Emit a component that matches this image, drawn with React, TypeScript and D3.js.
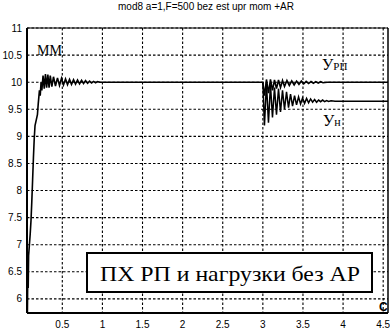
import React from "react";
import * as d3 from "d3";

// tick labels
const xTicks = [0.5, 1, 1.5, 2, 2.5, 3, 3.5, 4, 4.5];
const yTicks = [6, 6.5, 7, 7.5, 8, 8.5, 9, 9.5, 10, 10.5, 11];

// УРП: start-up transient, then the load step at t = 3
const rpT = [
  0.065, 0.07, 0.075, 0.08, 0.09, 0.1, 0.11, 0.12, 0.13, 0.14, 0.15, 0.16, 0.175, 0.19, 0.2,
  0.215, 0.225, 0.235, 0.245, 0.26, 0.275, 0.29, 0.305, 0.32, 0.335, 0.35, 0.37, 0.39,
  0.415, 0.44, 0.465, 0.49, 0.515, 0.54, 0.565, 0.59, 0.615, 0.64, 0.665, 0.69, 0.715,
  0.74, 0.765, 0.79, 0.815, 0.84, 0.865, 0.89, 0.915, 0.94, 0.97, 3.0,
  3.02, 3.045, 3.07, 3.095, 3.12, 3.145, 3.17, 3.195, 3.22, 3.245, 3.27, 3.3, 3.33, 3.36,
  3.39, 3.42, 3.45, 3.48, 3.51, 3.54, 3.57, 3.6, 3.63, 3.66, 3.69, 3.72, 3.75, 3.8, 3.9, 4.56,
];
const rpY = [
  5.74, 6.5, 6.2, 6.8, 7.0, 7.2, 7.45, 7.8, 8.2, 8.6, 8.95, 9.2, 9.3, 9.4, 9.6,
  9.85, 9.75, 10.0, 9.85, 10.12, 9.88, 10.15, 9.9, 10.14, 9.9, 10.12, 9.92, 10.1,
  9.93, 10.08, 9.94, 10.07, 9.95, 10.06, 9.955, 10.05, 9.96, 10.045, 9.965, 10.04, 9.97,
  10.035, 9.975, 10.03, 9.98, 10.02, 9.985, 10.015, 9.99, 10.01, 10.0, 10.0,
  9.75, 10.05, 9.8, 10.05, 9.85, 10.04, 9.88, 10.04, 9.9, 10.03, 9.92, 10.03, 9.94, 10.025,
  9.95, 10.02, 9.96, 10.02, 9.97, 10.015, 9.975, 10.012, 9.98, 10.01, 9.985, 10.008, 9.99, 10.0, 10.0, 10.0,
];

// Ун: load response after the step at t = 3
const loadT = [
  3.0, 3.02, 3.045, 3.07, 3.095, 3.12, 3.145, 3.17, 3.195, 3.22, 3.245, 3.27, 3.295, 3.32,
  3.345, 3.37, 3.395, 3.42, 3.445, 3.47, 3.495, 3.52, 3.545, 3.57, 3.595, 3.62, 3.645,
  3.67, 3.695, 3.72, 3.745, 3.77, 3.795, 3.82, 3.85, 3.9, 4.56,
];
const loadY = [
  10.0, 9.2, 9.98, 9.25, 9.95, 9.35, 9.9, 9.4, 9.88, 9.45, 9.85, 9.5, 9.82, 9.53,
  9.78, 9.56, 9.75, 9.58, 9.73, 9.6, 9.71, 9.61, 9.7, 9.62, 9.69, 9.63, 9.68,
  9.63, 9.67, 9.64, 9.67, 9.64, 9.66, 9.645, 9.655, 9.65, 9.65,
];

const W = 390;
const H = 335;
const left = 27;
const right = 388;
const top = 28;
const bottom = 313;

export default function App() {
  const x = d3.scaleLinear().domain([0.06, 4.56]).range([left, right]);
  const y = d3.scaleLinear().domain([5.74, 11]).range([bottom, top]);

  const line = d3
    .line<[number, number]>()
    .x((d) => x(d[0]))
    .y((d) => y(d[1]));

  const rpPath = line(rpT.map((t, i) => [t, rpY[i]] as [number, number])) || "";
  const loadPath = line(loadT.map((t, i) => [t, loadY[i]] as [number, number])) || "";

  const sans = "Liberation Sans, Arial, sans-serif";
  const serif = "Liberation Serif, DejaVu Serif, Times New Roman, serif";

  return (
    <div style={{ position: "fixed", left: 0, top: 0 }}>
      <svg width={W} height={H} style={{ display: "block", background: "#fff" }}>
        <text x={206} y={10} fontSize={10} fontFamily={sans} textAnchor="middle">
          mod8 a=1,F=500 bez est upr mom +AR
        </text>

        {/* grid */}
        {xTicks.map((t) => (
          <line key={"gx" + t} x1={x(t)} x2={x(t)} y1={top} y2={bottom}
            stroke="#000" strokeWidth={1.1} strokeDasharray="2.5,2" />
        ))}
        {yTicks.map((t) => (
          <line key={"gy" + t} x1={left} x2={right} y1={y(t)} y2={y(t)}
            stroke="#000" strokeWidth={1.1} strokeDasharray="2.5,2" />
        ))}

        {/* frame */}
        <line x1={left} x2={left} y1={top} y2={bottom} stroke="#000" strokeWidth={2} />
        <line x1={left} x2={right} y1={bottom} y2={bottom} stroke="#000" strokeWidth={2} />
        <line x1={right} x2={right} y1={top} y2={bottom} stroke="#000" strokeWidth={1.5} />
        <line x1={left} x2={right} y1={top} y2={top} stroke="#000" strokeWidth={1} />

        {/* tick labels */}
        {xTicks.map((t) => (
          <text key={"tx" + t} x={x(t)} y={328} fontSize={10} fontFamily={sans} textAnchor="middle">
            {t}
          </text>
        ))}
        {yTicks.map((t) => (
          <text key={"ty" + t} x={22} y={y(t) + 3.5} fontSize={10} fontFamily={sans} textAnchor="end">
            {t}
          </text>
        ))}

        {/* curves */}
        <path d={loadPath} fill="none" stroke="#000" strokeWidth={1.5} />
        <path d={rpPath} fill="none" stroke="#000" strokeWidth={1.6} />

        {/* labels */}
        <text x={37} y={55} fontSize={14} fontFamily={serif}>ММ</text>
        <text x={322} y={70} fontSize={16} fontFamily={serif}>
          У<tspan fontSize={11}>РП</tspan>
        </text>
        <text x={323} y={126} fontSize={16} fontFamily={serif}>
          У<tspan fontSize={12}>н</tspan>
        </text>

        <rect x={87} y={253} width={285} height={39} fill="#fff" stroke="#000" strokeWidth={2} />
        <text x={100} y={281} fontSize={22} fontFamily={serif} textLength={260}
          lengthAdjust="spacingAndGlyphs">
          ПХ РП и нагрузки без АР
        </text>

        <text x={379} y={311} fontSize={12} fontFamily={sans} fontWeight="bold">C</text>
      </svg>
    </div>
  );
}
